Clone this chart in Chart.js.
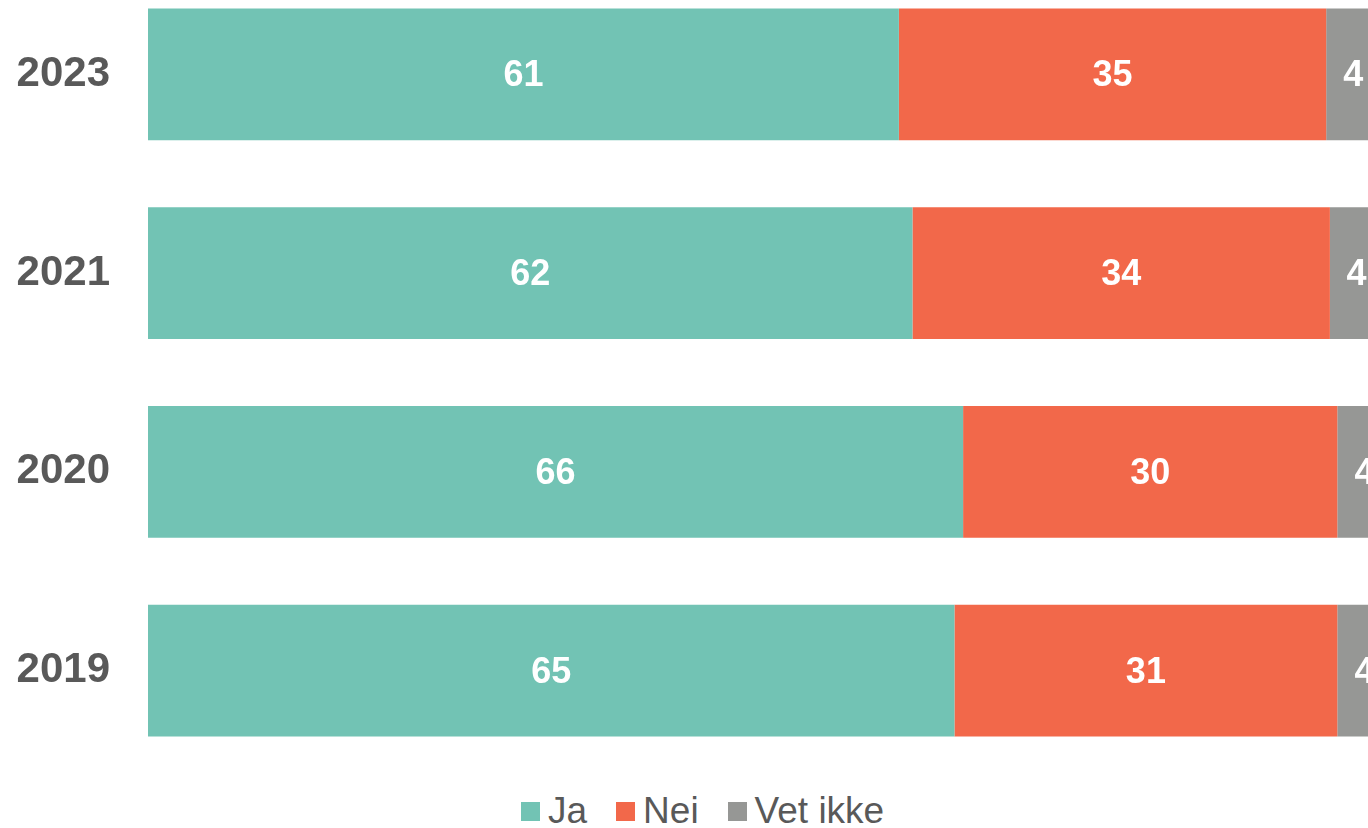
<!DOCTYPE html>
<html lang="no">
<head>
<meta charset="utf-8">
<title>Ja / Nei / Vet ikke</title>
<script src="https://cdn.jsdelivr.net/npm/chart.js@4"></script>
<style>
    html, body {
        margin: 0;
        padding: 0;
        width: 1368px;
        height: 828px;
        overflow: hidden;
        background: #ffffff;
        font-family: "Liberation Sans", Arial, sans-serif;
    }
    .wrap {
        position: absolute;
        left: 0;
        top: -25px;
        width: 1383px;
        height: 795px;
    }
    #legend {
        position: absolute;
        left: 521px;
        top: 790px;
        display: flex;
        align-items: center;
        font-size: 37px;
        color: #595959;
        white-space: nowrap;
    }
    #legend .item {
        display: flex;
        align-items: center;
        margin-right: 29px;
    }
    #legend .box {
        width: 19px;
        height: 19px;
        margin-right: 8px;
    }
</style>
</head>
<body>
<div class="wrap"><canvas id="aarChart"></canvas></div>
<div id="legend"></div>

<script>
// Data
const years = ['2023', '2021', '2020', '2019'];
const ja = [60.8, 61.9, 66.0, 65.3];
const nei = [34.6, 33.8, 30.3, 31.0];
const vetIkke = [4.4, 4.3, 4.4, 4.4];

const seriesLabels = ['Ja', 'Nei', 'Vet ikke'];
const seriesColors = ['#72c3b4', '#f2684a', '#969795'];

document.addEventListener('DOMContentLoaded', () => {
    const FONT = '"Liberation Sans", Arial, sans-serif';

    // ----------------------------------------------------------------------
    // Verdier midt i hvert segment
    // ----------------------------------------------------------------------
    const valueLabels = {
        id: 'valueLabels',
        afterDatasetsDraw(chart) {
            const ctx = chart.ctx;
            ctx.save();
            ctx.font = 'bold 36px ' + FONT;
            ctx.fillStyle = '#ffffff';
            ctx.textAlign = 'center';
            ctx.textBaseline = 'middle';
            chart.data.datasets.forEach((ds, i) => {
                const meta = chart.getDatasetMeta(i);
                meta.data.forEach((bar, j) => {
                    const cx = (bar.x + bar.base) / 2;
                    ctx.fillText(Math.round(ds.data[j]), cx, bar.y + 2);
                });
            });
            ctx.restore();
        }
    };

    const ctxBar = document.getElementById('aarChart');

    const chart = new Chart(ctxBar, {
        type: 'bar',
        data: {
            labels: years,
            datasets: [
                { label: seriesLabels[0], data: ja, backgroundColor: seriesColors[0] },
                { label: seriesLabels[1], data: nei, backgroundColor: seriesColors[1] },
                { label: seriesLabels[2], data: vetIkke, backgroundColor: seriesColors[2] }
            ]
        },
        options: {
            indexAxis: 'y',
            responsive: true,
            maintainAspectRatio: false,
            animation: false,
            layout: { padding: 0 },
            datasets: {
                bar: {
                    barPercentage: 1,
                    categoryPercentage: 0.664
                }
            },
            plugins: {
                legend: { display: false },
                tooltip: { enabled: false },
                title: { display: false }
            },
            scales: {
                x: {
                    stacked: true,
                    min: 0,
                    max: 100,
                    display: false
                },
                y: {
                    stacked: true,
                    grid: { display: false, drawTicks: false },
                    border: { display: false },
                    afterFit: (axis) => {
                        // fast bredde, og ingen ekstra luft over/under
                        axis.width = 148;
                        axis.paddingTop = 0;
                        axis.paddingBottom = 0;
                    },
                    ticks: {
                        padding: 38,
                        color: '#595959',
                        font: { family: FONT, size: 42, weight: 'bold' }
                    }
                }
            }
        },
        plugins: [valueLabels]
    });

    // ----------------------------------------------------------------------
    // Forklaring (legend) bygget fra datasettene
    // ----------------------------------------------------------------------
    const legendEl = document.getElementById('legend');
    chart.data.datasets.forEach(ds => {
        const item = document.createElement('div');
        item.className = 'item';
        const box = document.createElement('span');
        box.className = 'box';
        box.style.background = ds.backgroundColor;
        const txt = document.createElement('span');
        txt.textContent = ds.label;
        item.appendChild(box);
        item.appendChild(txt);
        legendEl.appendChild(item);
    });
});
</script>
</body>
</html>
